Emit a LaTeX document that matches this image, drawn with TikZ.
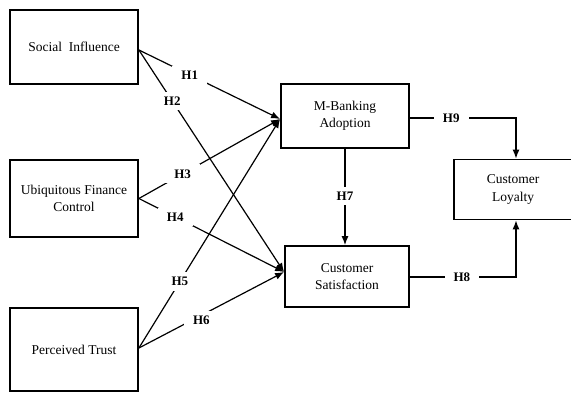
\documentclass[tikz,border=0pt]{standalone}
\usepackage{fontspec}
\setmainfont{Liberation Serif}
\usetikzlibrary{arrows.meta}

\begin{document}
\begin{tikzpicture}[x=1pt, y=-1pt,
  box/.style={draw=black, line width=1.8pt, fill=white, align=center, inner sep=0pt,
    font={\fontsize{13.5}{17.5}\selectfont}},
  hyp/.style={line width=1.2pt, -{Latex[length=9pt, width=7pt]}},
  hlabel/.style={fill=white, inner xsep=9pt, inner ysep=5pt, font={\fontsize{13}{13}\selectfont\bfseries}}]

\useasboundingbox (0,0) rectangle (571,393);

% constructs
\node [box, minimum width=128pt, minimum height=74pt] (social) at (74, 47) {Social\ \ Influence};
\node [box, minimum width=128pt, minimum height=77pt] (ufc) at (74, 198.5) {Ubiquitous Finance\\Control};
\node [box, minimum width=128pt, minimum height=83pt] (trust) at (74, 349.5) {Perceived Trust};
\node [box, minimum width=128pt, minimum height=64pt] (mba) at (345, 116) {M-Banking\\Adoption};
\node [box, minimum width=124pt, minimum height=61pt] (sat) at (347, 276.5) {Customer\\Satisfaction};
\node [box, minimum width=128pt, minimum height=60pt, anchor=west] (loyal) at (453, 189.5) {};
\node [font={\fontsize{13.5}{17.5}\selectfont}, align=center] (loyaltext) at (513, 189.5) {Customer\\Loyalty};

% turning points
\coordinate (turn9) at (516,118);
\coordinate (turn8) at (516,277);

% hypotheses
\draw [hyp] (social.east |- 0,50) -- node [hlabel, pos=0.36] (h1) {H1} (mba.west |- 0,119);
\draw [hyp] (social.east |- 0,50) -- node [hlabel, pos=0.23] (h2) {H2} (sat.west |- 0,272);
\draw [hyp] (ufc.east) -- node [hlabel, pos=0.31] (h3) {H3} (mba.west |- 0,119);
\draw [hyp] (ufc.east) -- node [hlabel, pos=0.25] (h4) {H4} (sat.west |- 0,272);
\draw [hyp] (trust.east |- 0,348) -- node [hlabel, pos=0.29] (h5) {H5} (mba.west |- 0,119);
\draw [hyp] (trust.east |- 0,348) -- node [hlabel, pos=0.43, yshift=-5pt] (h6) {H6} (sat.west |- 0,272);
\draw [hyp] (mba.south) -- node [hlabel, pos=0.49] (h7) {H7} (mba.south |- sat.north);
\draw [hyp] (sat.east |- turn8) -- node [hlabel, pos=0.49] (h8) {H8} (turn8) -- (turn8 |- loyal.south);
\draw [hyp] (mba.east |- turn9) -- node [hlabel, pos=0.39] (h9) {H9} (turn9) -- (turn9 |- loyal.north);

\end{tikzpicture}
\end{document}
